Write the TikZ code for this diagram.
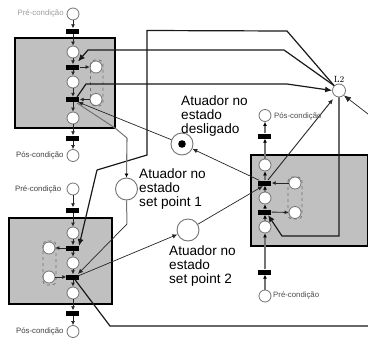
\documentclass[tikz,border=0pt]{standalone}
\usepackage{fontspec}
\setmainfont{Liberation Sans}
\usetikzlibrary{arrows.meta}
\definecolor{boxgray}{RGB}{192,192,192}
\definecolor{linegray}{RGB}{115,115,115}
\tikzset{
  boxpanel/.style={draw=black,line width=2pt,fill=boxgray},
  place/.style={circle,draw=linegray,line width=0.8pt,fill=white,minimum size=12pt,inner sep=0pt},
  bigplace/.style={circle,draw=linegray,line width=0.9pt,fill=white,minimum size=22pt,inner sep=0pt},
  barr/.style={rectangle,fill=black,minimum width=13pt,minimum height=5pt,inner sep=0pt},
  flow/.style={draw=black!85,line width=0.9pt,-{Latex[length=4pt,width=4pt]}},
  flowg/.style={draw=linegray,line width=1.1pt,-{Latex[length=4pt,width=4pt,color=black]}},
  plain/.style={draw=black!85,line width=0.7pt},
  heavy/.style={draw=black!90,line width=1.2pt},
  headbig/.style={-{Latex[length=7pt,width=6pt]}},
  headsmall/.style={-{Latex[length=5pt,width=4.5pt]}},
  groupdash/.style={draw=linegray,dashed,line width=0.8pt,rounded corners=4pt},
  smalllabel/.style={font=\fontsize{7.8}{9}\selectfont,inner sep=0pt,anchor=west},
  biglabel/.style={font=\fontsize{13.6}{14}\selectfont,inner sep=0pt,anchor=north west,align=left},
}
\begin{document}
\begin{tikzpicture}[x=1pt,y=-1pt]
\useasboundingbox (0,0) rectangle (368,338);
\fill[white] (0,0) rectangle (368,338);
% panels
\draw[boxpanel] (15.5,38) rectangle (115.5,128);
\draw[boxpanel] (9.5,218) rectangle (112,304);
\draw[boxpanel] (251,155) rectangle (368.5,246);
% top-left column
\node[place] (a0) at (73,14) {};
\node[barr] (a1) at (73,31) {};
\node[place] (a2) at (73,52) {};
\node[barr] (a3) at (73,67) {};
\node[place] (a4) at (73,82) {};
\node[barr] (a5) at (73,99.5) {};
\node[place] (a6) at (73,118) {};
\node[barr] (a7) at (73,138) {};
\node[place] (a8) at (73,155.5) {};
\node[place] (as1) at (96,67) {};
\node[place] (as2) at (96,99.5) {};
% bottom-left column
\node[place] (b0) at (73,189) {};
\node[barr] (b1) at (73,210) {};
\node[place] (b2) at (73,233) {};
\node[barr] (b3) at (73,248) {};
\node[place] (b4) at (73,263) {};
\node[barr] (b5) at (73,277) {};
\node[place] (b6) at (73,293) {};
\node[barr] (b7) at (73,313) {};
\node[place] (b8) at (73,331.5) {};
\node[place] (bs1) at (49,248) {};
\node[place] (bs2) at (49,277) {};
% right column
\node[place] (c0) at (265,115.5) {};
\node[barr] (c1) at (265,136) {};
\node[place] (c2) at (265,165) {};
\node[barr] (c3) at (265,183) {};
\node[place] (c4) at (265,198) {};
\node[barr] (c5) at (265,212) {};
\node[place] (c6) at (265,227) {};
\node[barr] (c7) at (265,272) {};
\node[place] (c8) at (265,296) {};
\node[place] (cs1) at (295,183) {};
\node[place] (cs2) at (295,212.5) {};
% actuator places
\node[bigplace] (off) at (182,144) {};
\fill[black] (off.center) circle (3.8);
\node[bigplace] (sp1) at (126.5,189) {};
\node[bigplace] (sp2) at (188,230) {};
\node[place,minimum size=13pt] (L2) at (339,90.5) {};
% dashed groups
\draw[groupdash] (90.5,60) rectangle (103,106);
\draw[groupdash] (43,241) rectangle (56,285);
\draw[groupdash] (288,177) rectangle (302,219);
% column flows
\foreach \p/\q in {a0/a1,a1/a2,a2/a3,a3/a4,a4/a5,a5/a6,a6/a7,a7/a8,
                   b0/b1,b1/b2,b2/b3,b3/b4,b4/b5,b5/b6,b6/b7,b7/b8}
  \draw[flow] (\p) -- (\q);
\foreach \p/\q in {c8/c7,c7/c6,c6/c5,c5/c4,c4/c3,c3/c2,c2/c1,c1/c0}
  \draw[flowg] (\p) -- (\q);
\draw[flow] (a3) -- (as1);
\draw[flow] (as2) -- (a5);
\draw[flow] (b3) -- (bs1);
\draw[flow] (bs2) -- (b5);
\draw[flow] (cs1) -- (c3);
\draw[flow] (c5) -- (cs2);
% connectors
\coordinate (e1) at (78,61.5);
\coordinate (e2) at (77,97);
\coordinate (e3) at (79,246);
\coordinate (e4) at (78,102);
\coordinate (e5) at (78,274);
\coordinate (e6) at (78,276);
\coordinate (e7) at (263,186);
\coordinate (e8) at (268,215);
\coordinate (e10) at (333,99);
\coordinate (rin) at (368,114);
\coordinate (e11) at (77,103);
\draw[heavy,headbig] (L2.north west) -- (284,50) -- (88,50) -- (e1);
\draw[heavy,headbig] (e2) -- (86,84) -- (287,84) -- (L2.west);
\draw[heavy] (L2.north west) -- (287,31) -- (147,30.5) -- (147,155) -- (97,170);
\draw[heavy,headbig] (97,170) -- (e3);
\draw[plain,headsmall] (off) -- (e4);
\draw[plain,headsmall] (c3) -- (off);
\draw[draw=linegray,line width=1pt] (e11) -- (115,128) -- (127,138);
\draw[flowg] (127,138) -- (sp1.north);
\draw[draw=linegray,line width=1pt] (sp1.south) -- (127,224);
\draw[plain,headsmall] (127,224) -- (e5);
\draw[plain,headsmall] (e6) -- (sp2);
\draw[plain,headsmall] (sp2) -- (e7);
\draw[plain,headsmall,line width=0.9pt] (268,180) -- (e10);
\draw[plain,headbig] (rin) -- (L2.south east);
\draw[heavy,headbig] (L2.south) -- (339,236) -- (282,236) -- (e8);
\draw[heavy] (b5) -- (110,326) -- (368,326);
% labels
\node[smalllabel,text=black!38] (t1) at (17.5,13) {Pré-condição};
\node[smalllabel,text=black!75] (t2) at (16,155.5) {Pós-condição};
\node[smalllabel,text=black!70] (t3) at (274,116) {Pós-condição};
\node[smalllabel,text=black!70] (t4) at (273,295.5) {Pré-condição};
\node[smalllabel,text=black!75] (t5) at (15,189) {Pré-condição};
\node[smalllabel,text=black!75] (t6) at (16,331) {Pós-condição};
\node[font=\fontfamily{lmr}\fontsize{9}{9}\selectfont,inner sep=0pt] (t7) at (339,79) {L2};
\node[biglabel] (t8) at (181,95) {Atuador no\\estado\\desligado};
\node[biglabel] (t9) at (139,168.5) {Atuador no\\estado\\set point 1};
\node[biglabel] (t10) at (169,245.5) {Atuador no\\estado\\set point 2};
\end{tikzpicture}
\end{document}
